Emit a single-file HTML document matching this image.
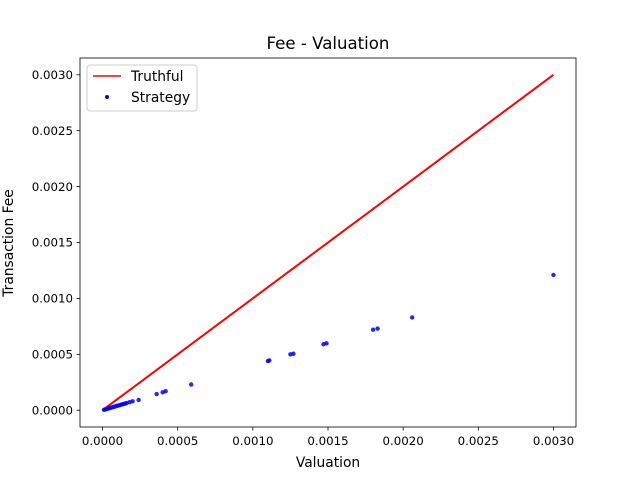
<!DOCTYPE html>
<html><head><meta charset="utf-8"><style>
body{margin:0;background:#fff;font-family:"Liberation Sans","DejaVu Sans",sans-serif}
svg text{font-family:"DejaVu Sans","Liberation Sans",sans-serif}
</style></head><body>
<svg width="640" height="480" id="c">
<rect width="640" height="480" fill="#fff"/>
<text x="328" y="49" font-size="16.6" text-anchor="middle">Fee - Valuation</text>
<text x="328" y="467" font-size="13.8" text-anchor="middle">Valuation</text>
<text transform="translate(13,243) rotate(-90)" font-size="13.8" text-anchor="middle">Transaction Fee</text>
<g id="ticks"></g>
<g id="marks"></g>
<rect x="80" y="58" width="496" height="369" fill="none" stroke="#000" stroke-width="0.8"/>
<g>
<rect x="87" y="65" width="110" height="46" rx="3" fill="#fff" fill-opacity="0.8" stroke="#ccc"/>
<line x1="93" y1="76" x2="121" y2="76" stroke="red" stroke-width="1.5"/>
<text x="131" y="81" font-size="13.8">Truthful</text>
<circle cx="107" cy="97" r="2" fill="blue"/>
<text x="131" y="102" font-size="13.8">Strategy</text>
</g>
</svg>
<script>
const xTicks=[0,0.0005,0.001,0.0015,0.002,0.0025,0.003];
const xTickLabels=["0.0000","0.0005","0.0010","0.0015","0.0020","0.0025","0.0030"];
const yTicks=[0,0.0005,0.001,0.0015,0.002,0.0025,0.003];
const yTickLabels=["0.0000","0.0005","0.0010","0.0015","0.0020","0.0025","0.0030"];
const truthX=[0,0.003];
const truthY=[0,0.003];
const stratX=[0.00001,0.00002,0.00003,0.00004,0.00005,0.00006,0.00007,0.00008,0.00009,0.0001,0.00011,0.00012,0.00013,0.00014,0.00015,0.00016,0.00018,0.0002,0.00024,0.00036,0.0004,0.00042,0.00059,0.0011,0.00111,0.00125,0.00127,0.00147,0.00149,0.0018,0.00183,0.00206,0.003];
const stratY=[0.000004,0.000008,0.000012,0.000016,0.00002,0.000024,0.000028,0.000032,0.000036,0.00004,0.000044,0.000048,0.000052,0.000056,0.00006,0.000064,0.000072,0.00008,0.000092,0.000145,0.00016,0.00017,0.00023,0.00044,0.000445,0.0005,0.000505,0.00059,0.000598,0.00072,0.00073,0.00083,0.00121];
const NS="http://www.w3.org/2000/svg";
const X=v=>80+(v+0.00015)/0.0033*496;
const Y=v=>427-(v+0.00015)/0.0033*369;
const tg=document.getElementById('ticks'),mg=document.getElementById('marks');
function mk(t,a,p){const e=document.createElementNS(NS,t);for(const k in a)e.setAttribute(k,a[k]);p.appendChild(e);return e;}
xTicks.forEach((v,i)=>{
 const l=mk('line',{x1:X(v),x2:X(v),y1:427,y2:430.5,stroke:'#000','stroke-width':0.8},tg);
 
 
 const t=mk('text',{x:X(v),y:445,'font-size':11.8,'text-anchor':'middle'},tg);t.textContent=xTickLabels[i];
 
 
});
yTicks.forEach((v,i)=>{
 const l=mk('line',{x1:76.5,x2:80,y1:Y(v),y2:Y(v),stroke:'#000','stroke-width':0.8},tg);
 
 
 const t=mk('text',{x:73,y:Y(v)+4.2,'font-size':11.8,'text-anchor':'end'},tg);t.textContent=yTickLabels[i];
 
 
});
const ln=mk('line',{x1:X(truthX[0]),y1:Y(truthY[0]),x2:X(truthX[1]),y2:Y(truthY[1]),stroke:'red','stroke-width':2},mg);


stratX.forEach((v,i)=>{
 const c=mk('circle',{cx:X(v),cy:Y(stratY[i]),r:2.2,fill:'blue','fill-opacity':0.85},mg);
 
 
});
</script>
</body></html>
